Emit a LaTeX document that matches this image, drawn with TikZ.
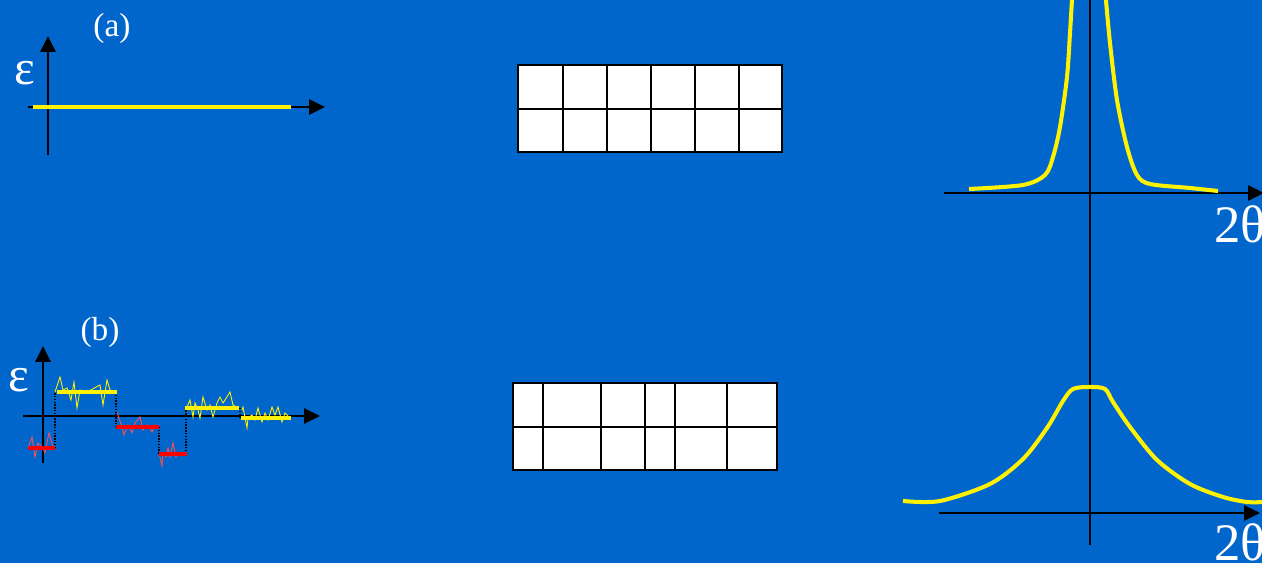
\documentclass[tikz,border=0pt]{standalone}
\usepackage{fontspec}
\setmainfont{Liberation Serif}
\usetikzlibrary{arrows.meta}
\definecolor{slideblue}{RGB}{0,102,204}
\definecolor{noisered}{RGB}{255,80,80}

\begin{document}
\begin{tikzpicture}[x=0.02cm, y=-0.02cm, >={Triangle[length=9pt,width=8.5pt]},
  axis/.style={->, line width=1.3pt, black},
  level/.style={line width=2.4pt},
  noise/.style={line width=0.5pt},
  jump/.style={black, line width=0.8pt, dash pattern=on 0.8pt off 0.8pt},
  peak/.style={yellow, line width=2.3pt},
  lbl/.style={text=white, inner sep=0pt},
  cell/.style={fill=white, draw=black, line width=1.1pt},
  gridline/.style={black, line width=1.1pt}]

% background (slide)
\fill[slideblue] (0,0) rectangle (1262,563);
\useasboundingbox (0,0) rectangle (1262,563);

% (a) constant strain
\node[lbl, font=\fontsize{19}{22}\selectfont] (lbla) at (112,28) {(a)};
\node[lbl, font=\fontsize{28}{32}\selectfont] (epsa) at (25,73) {ε};
\coordinate (ya0) at (48,155);
\coordinate (ya1) at (48,36);
\coordinate (xa0) at (28,107);
\coordinate (xa1) at (325,107);
\draw[axis] (ya0) -- (ya1);
\draw[axis] (xa0) -- (xa1);
\draw[level, yellow] (33,107) -- (291,107);

% (b) fluctuating strain
\node[lbl, font=\fontsize{19}{22}\selectfont] (lblb) at (100,332) {(b)};
\node[lbl, font=\fontsize{28}{32}\selectfont] (epsb) at (19,380) {ε};
\coordinate (yb0) at (43,463);
\coordinate (yb1) at (43,346);
\coordinate (xb0) at (23,416);
\coordinate (xb1) at (320,416);
\draw[axis] (yb0) -- (yb1);
\draw[axis] (xb0) -- (xb1);

% noise around each level
\draw[noise, noisered] plot coordinates
  {(28,448) (32,437) (35,457) (38,443) (42,447) (45,453) (49,433) (53,447) (55,448)};
\draw[noise, yellow] plot coordinates
  {(55,392) (60,377) (63,390) (67,388) (71,400) (74,382) (77,408) (80,390)
   (87,392) (100,385) (103,405) (107,380) (110,390) (115,392)};
\draw[noise, noisered] plot coordinates
  {(117,412) (122,427) (124,435) (128,425) (132,433) (135,423) (140,417)
   (143,430) (148,425) (152,432) (155,425) (158,427)};
\draw[noise, noisered] plot coordinates
  {(159,453) (162,466) (163,453) (166,457) (168,448) (170,457) (173,443)
   (176,457) (178,452) (182,455) (185,453)};
\draw[noise, yellow] plot coordinates
  {(187,407) (190,400) (193,417) (195,403) (198,410) (200,418) (203,397)
   (207,410) (210,405) (213,417) (217,403) (220,397) (223,403) (225,400)
   (230,392) (233,405) (238,408)};
\draw[noise, yellow] plot coordinates
  {(242,410) (243,407) (247,428) (248,418) (252,415) (255,420) (258,408)
   (262,422) (265,413) (268,420) (272,407) (275,415) (278,407) (282,422)
   (285,413) (290,418)};

% dotted jumps
\draw[jump] (55,448) -- (55,392);
\draw[jump] (116,392) -- (116,427);
\draw[jump] (159,427) -- (159,454);
\draw[jump] (186,454) -- (186,408);
\draw[jump] (240,408) -- (240,418);

% mean levels
\draw[level, red] (28,448) -- (55,448);
\draw[level, yellow] (57,392) -- (117,392);
\draw[level, red] (116,427) -- (159,427);
\draw[level, red] (159,454) -- (187,454);
\draw[level, yellow] (185,408) -- (239,408);
\draw[level, yellow] (241,418) -- (291,418);

% regular lattice
\draw[cell] (518,65) rectangle (782,152);
\foreach \x in {563,607,651,695,739}
  \draw[gridline] (\x,65) -- (\x,152);
\draw[gridline] (518,109) -- (782,109);

% distorted lattice
\draw[cell] (513,383) rectangle (777,470);
\foreach \x in {543,601,645,675,727}
  \draw[gridline] (\x,383) -- (\x,470);
\draw[gridline] (513,427) -- (777,427);

% diffraction peaks
\coordinate (yc0) at (1090,545);
\coordinate (yc1) at (1090,-5);
\draw[line width=1.3pt] (yc0) -- (yc1);
\coordinate (xc0) at (944,193);
\coordinate (xc1) at (1264,193);
\draw[axis] (xc0) -- (xc1);
\coordinate (xd0) at (939,513);
\coordinate (xd1) at (1260,513);
\draw[axis] (xd0) -- (xd1);

\draw[peak] plot[smooth, tension=0.5] coordinates
  {(969,189) (1023,185) (1045,175) (1053,157) (1060,127) (1067,77) (1070,33) (1072,0) (1073,-8)};
\draw[peak] plot[smooth, tension=0.5] coordinates
  {(1106,-8) (1106,0) (1110,43) (1117,100) (1127,147) (1137,175) (1150,184) (1190,188) (1218,191)};
\draw[peak] plot[smooth, tension=0.5] coordinates
  {(903,501) (940,501) (990,484) (1023,459) (1047,428) (1063,401) (1073,389)
   (1090,387) (1105,389) (1113,402) (1130,427) (1157,460) (1190,484)
   (1223,497) (1247,502) (1264,502)};

\node[lbl, font=\fontsize{30}{34}\selectfont, anchor=base west] (ttha) at (1214,243) {2θ};
\node[lbl, font=\fontsize{30}{34}\selectfont, anchor=base west] (tthb) at (1214,561) {2θ};
\end{tikzpicture}
\end{document}
